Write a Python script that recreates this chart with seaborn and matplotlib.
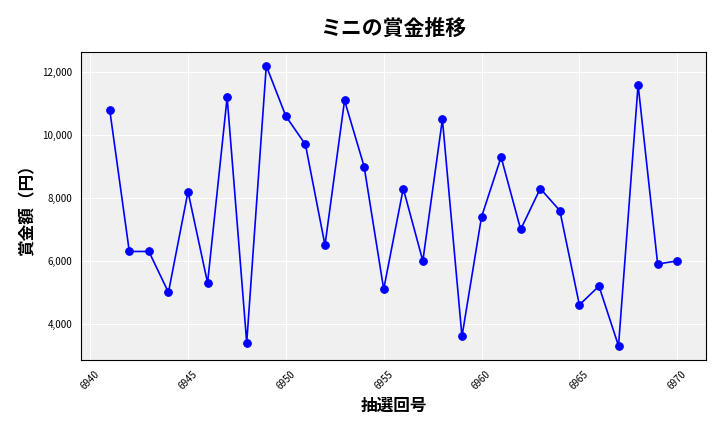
import matplotlib
matplotlib.use("Agg")
import matplotlib.pyplot as plt
import seaborn as sns
import pandas as pd
from matplotlib.ticker import FuncFormatter

draws = list(range(6941, 6971))
prizes = [10800, 6300, 6300, 5000, 8200, 5300, 11200, 3400, 12200, 10600,
          9700, 6500, 11100, 9000, 5100, 8300, 6000, 10500, 3600, 7400,
          9300, 7000, 8300, 7600, 4600, 5200, 3300, 11600, 5900, 6000]

sns.set_style("whitegrid")
plt.rcParams['font.family'] = ['Noto Sans CJK JP', 'DejaVu Sans']
plt.rcParams['text.color'] = 'black'
plt.rcParams['axes.labelcolor'] = 'black'
plt.rcParams['xtick.color'] = 'black'
plt.rcParams['ytick.color'] = 'black'

df = pd.DataFrame({"draw": draws, "prize": prizes})
fig, ax = plt.subplots(figsize=(7.2, 4.32), dpi=100)
ax.set_facecolor("#f0f0f0")
sns.lineplot(data=df, x="draw", y="prize", color="blue", marker="o",
             markersize=5.5, markeredgecolor="blue", linewidth=1.2, ax=ax)
ax.grid(True, color="white", linewidth=0.8)
for s in ax.spines.values():
    s.set_color("black"); s.set_linewidth(0.8)
ax.set_xticks(range(6940, 6971, 5))
ax.yaxis.set_major_formatter(FuncFormatter(lambda v, p: f"{int(v):,}"))
ax.tick_params(axis="x", labelrotation=45, labelsize=7, length=3)
ax.tick_params(axis="y", labelsize=7, length=3)
ax.set_xlabel("抽選回号", fontsize=12, fontweight="bold")
ax.set_ylabel("賞金額（円）", fontsize=12, fontweight="bold")
ax.set_title("ミニの賞金推移", fontsize=15, fontweight="bold", pad=12)
plt.subplots_adjust(left=0.113, right=0.98, top=0.88, bottom=0.167)
fig.savefig("out.png", dpi=100)
